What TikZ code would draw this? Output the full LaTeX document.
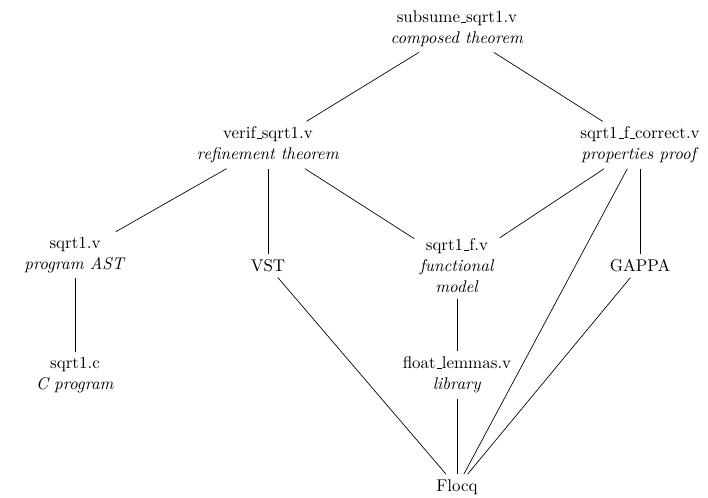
\documentclass[tikz,border=0pt]{standalone}
\newcommand{\usc}{\leavevmode\kern.06em\vbox{\hrule width.3em}}
\begin{document}
\begin{tikzpicture}[x=0.59pt,y=-0.59pt,
  lbl/.style={align=center, inner sep=3pt, font=\fontsize{10}{12.4}\selectfont},
  edge/.style={draw, line width=0.4pt}]
\useasboundingbox (0,0) rectangle (708,498);
\node[lbl] (sub) at (457,29) {subsume\usc sqrt1.v\\\textit{composed theorem}};
\node[lbl] (ver) at (268,145) {verif\usc sqrt1.v\\\textit{refinement theorem}};
\node[lbl] (cor) at (640,145) {sqrt1\usc f\usc correct.v\\\textit{properties proof}};
\node[lbl] (ast) at (75,255) {sqrt1.v\\\textit{program AST}};
\node[lbl] (vst) at (268,266) {VST};
\node[lbl] (fun) at (457,266) {sqrt1\usc f.v\\\textit{functional}\\\textit{model}};
\node[lbl] (gap) at (640,266) {GAPPA};
\node[lbl] (cprog) at (75,375) {sqrt1.c\\\textit{C program}};
\node[lbl] (lem) at (457,375) {float\usc lemmas.v\\\textit{library}};
\node[lbl] (flo) at (457,487) {Flocq};
\draw[edge] (sub) -- (ver);
\draw[edge] (sub) -- (cor);
\draw[edge] (ver) -- (ast);
\draw[edge] (ver) -- (vst);
\draw[edge] (ver) -- (fun);
\draw[edge] (cor) -- (fun);
\draw[edge] (cor) -- (gap);
\draw[edge] (cor) -- (flo);
\draw[edge] (ast) -- (cprog);
\draw[edge] (vst) -- (flo);
\draw[edge] (fun) -- (lem);
\draw[edge] (lem) -- (flo);
\draw[edge] (gap) -- (flo);
\end{tikzpicture}
\end{document}
